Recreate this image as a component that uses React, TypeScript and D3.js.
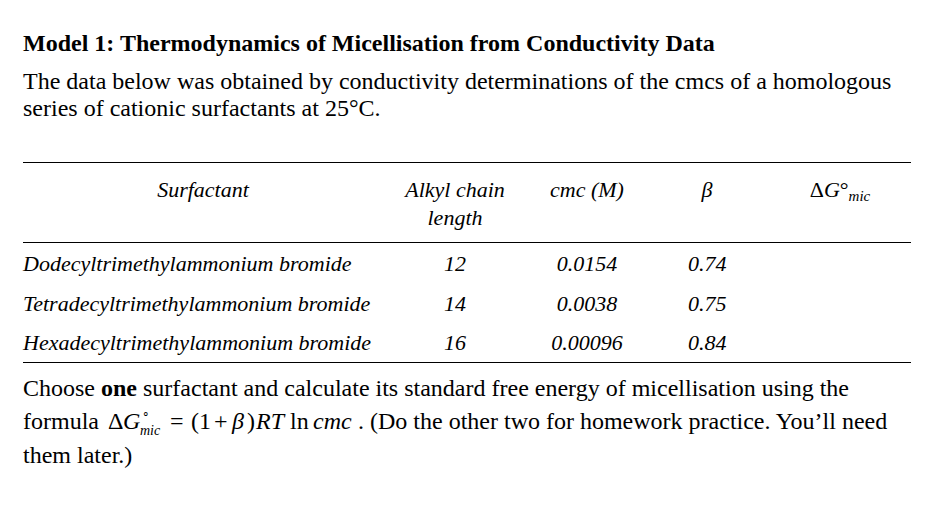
import React from "react";
import * as d3 from "d3";

const title = "Model 1: Thermodynamics of Micellisation from Conductivity Data";
const introLines = [
  "The data below was obtained by conductivity determinations of the cmcs of a homologous",
  "series of cationic surfactants at 25°C.",
];
const surfactants = [
  "Dodecyltrimethylammonium bromide",
  "Tetradecyltrimethylammonium bromide",
  "Hexadecyltrimethylammonium bromide",
];
const chainLengths = ["12", "14", "16"];
const cmcValues = ["0.0154", "0.0038", "0.00096"];
const betaValues = ["0.74", "0.75", "0.84"];
const columnKeys = ["surf", "chain", "cmc", "beta", "dg"];

const W = 940;
const H = 517;
const FONT = "'Liberation Serif', 'Times New Roman', serif";

export default function App() {
  const left = 23;
  const right = 911;
  const colX = d3.scaleOrdinal<string, number>().domain(columnKeys).range([203, 455, 587, 707, 840]);
  const rowY = d3.scalePoint<string>().domain(surfactants).range([271, 350]);
  const fs = 24;
  const tfs = 22;
  const fy = 429;
  const ffs = 24;
  return (
    <div style={{ margin: "-8px" }}>
      <svg width={W} height={H} style={{ display: "block", background: "#fff" }} fontFamily={FONT}>
        <text x={left} y={51} fontSize={fs} fontWeight="bold">{title}</text>
        {introLines.map((l, i) => (
          <text key={i} x={left} y={89 + i * 27} fontSize={fs}>{l}</text>
        ))}
        <line x1={left} x2={right} y1={162.5} y2={162.5} stroke="#000" strokeWidth={1} />
        <line x1={left} x2={right} y1={242.5} y2={242.5} stroke="#000" strokeWidth={1} />
        <line x1={left} x2={right} y1={362.5} y2={362.5} stroke="#000" strokeWidth={1} />
        <g fontStyle="italic" fontSize={tfs} textAnchor="middle">
          <text x={colX("surf")} y={197}>Surfactant</text>
          <text x={colX("chain")} y={197}>Alkyl chain</text>
          <text x={colX("chain")} y={225}>length</text>
          <text x={colX("cmc")} y={197}>cmc (M)</text>
          <text x={colX("beta")} y={197}>β</text>
          <text x={colX("dg")} y={197} fontStyle="normal">
            Δ<tspan fontStyle="italic">G</tspan>°<tspan fontStyle="italic" fontSize={15} dy={4}>mic</tspan>
          </text>
        </g>
        <g fontStyle="italic" fontSize={tfs}>
          {surfactants.map((s, i) => (
            <g key={s}>
              <text x={left} y={rowY(s)}>{s}</text>
              <text x={colX("chain")} y={rowY(s)} textAnchor="middle">{chainLengths[i]}</text>
              <text x={colX("cmc")} y={rowY(s)} textAnchor="middle">{cmcValues[i]}</text>
              <text x={688} y={rowY(s)}>{betaValues[i]}</text>
            </g>
          ))}
        </g>
        <text x={left} y={396} fontSize={fs}>
          Choose <tspan fontWeight="bold">one</tspan> surfactant and calculate its standard free energy of micellisation using the
        </text>
        <text x={left} y={fy} fontSize={fs}>formula</text>
        <g fontSize={ffs}>
          <text x={108} y={fy}>Δ</text>
          <text x={123} y={fy} fontStyle="italic">G</text>
          <text x={140} y={fy + 6} fontStyle="italic" fontSize={14}>mic</text>
          <text x={142} y={fy - 11} fontSize={12}>∘</text>
          <text x={170} y={fy}>=</text>
          <text x={191} y={fy}>(1</text>
          <text x={214} y={fy}>+</text>
          <text x={232} y={fy} fontStyle="italic">β</text>
          <text x={247} y={fy}>)</text>
          <text x={256} y={fy} fontStyle="italic">RT</text>
          <text x={290} y={fy}>ln</text>
          <text x={313} y={fy} fontStyle="italic">cmc</text>
        </g>
        <text x={358} y={fy} fontSize={fs}>. (Do the other two for homework practice. You’ll need</text>
        <text x={left} y={463} fontSize={fs}>them later.)</text>
      </svg>
    </div>
  );
}
